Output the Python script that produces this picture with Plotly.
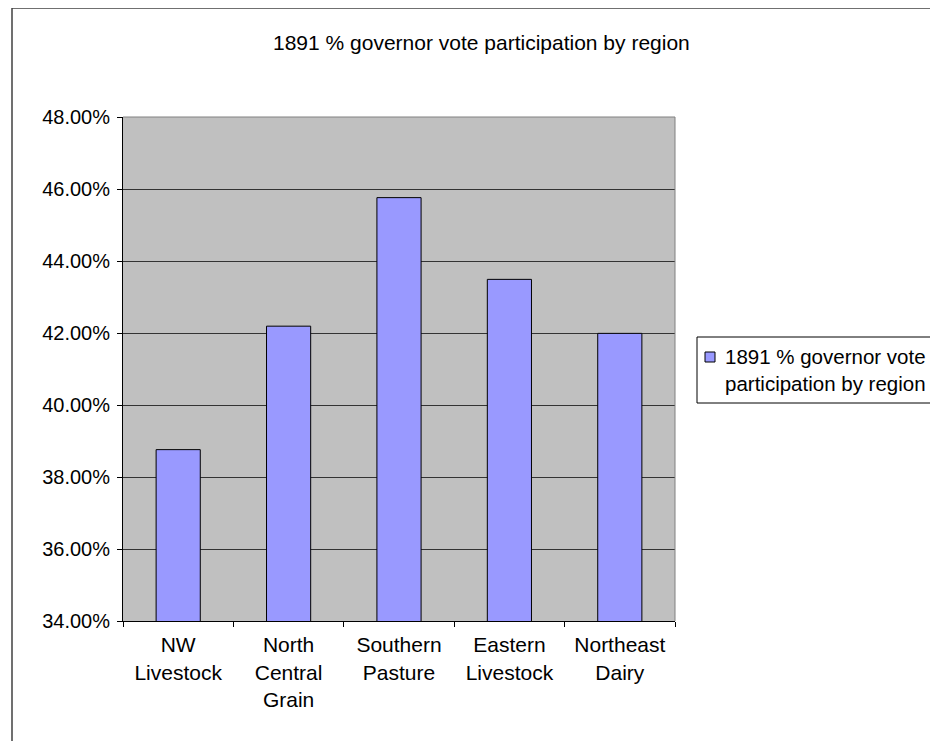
import plotly.graph_objects as go

categories = ["NW<br>Livestock", "North<br>Central<br>Grain", "Southern<br>Pasture",
              "Eastern<br>Livestock", "Northeast<br>Dairy"]
values = [0.3876, 0.4219, 0.4576, 0.4349, 0.4199]
series_name = "1891 % governor vote participation by region"
title_text = "1891 % governor vote participation by region"
legend_text = "1891 % governor vote<br>participation by region"

FONT = "Liberation Sans, Arial, sans-serif"
FS = 21
FS_Y = 20
FS_LEG = 20.5
BAR = "#9999FF"

OFF = 8  # page body margin
W, H = 930, 733
L, T = 123 - OFF, 117 - OFF
pw, ph = 552, 504
R = W - L - pw
B = H - T - ph

def px(x):
    return (x - OFF - L) / pw

def py(y):
    return (H - B - (y - OFF)) / ph

fig = go.Figure()
fig.add_trace(go.Bar(
    x=categories, y=values, name=series_name, width=0.4,
    marker=dict(color=BAR, line=dict(color="black", width=1)),
    showlegend=False,
))

shapes = [
    # chart area border (top and left)
    dict(type="line", xref="paper", yref="paper", x0=px(12), x1=px(960), y0=py(8), y1=py(8),
         line=dict(color="#404040", width=1.5)),
    dict(type="line", xref="paper", yref="paper", x0=px(12), x1=px(12), y0=py(8), y1=py(770),
         line=dict(color="#404040", width=1.5)),
    # plot area top/right border
    dict(type="line", xref="paper", yref="paper", x0=0, x1=1, y0=1, y1=1,
         line=dict(color="#808080", width=1), layer="above"),
    dict(type="line", xref="paper", yref="paper", x0=1, x1=1, y0=0, y1=1,
         line=dict(color="#808080", width=1), layer="above"),
    # legend box
    dict(type="rect", xref="paper", yref="paper", x0=px(697), x1=px(970), y0=py(337), y1=py(403),
         line=dict(color="black", width=1), fillcolor="white"),
    # legend swatch
    dict(type="rect", xref="paper", yref="paper", x0=px(705), x1=px(715), y0=py(352), y1=py(362),
         line=dict(color="black", width=1), fillcolor=BAR),
]

annotations = [
    dict(text=title_text, xref="paper", yref="paper", x=px(481), y=py(42),
         xanchor="center", yanchor="middle", showarrow=False,
         font=dict(family=FONT, size=FS, color="black")),
    dict(text=legend_text, xref="paper", yref="paper", x=px(825), y=py(370),
         xanchor="center", yanchor="middle", align="center", showarrow=False,
         font=dict(family=FONT, size=FS_LEG, color="black")),
]

fig.update_layout(
    width=W, height=H,
    margin=dict(l=L, r=R, t=T, b=B, autoexpand=False),
    paper_bgcolor="white", plot_bgcolor="#C0C0C0",
    font=dict(family=FONT, size=FS, color="black"),
    shapes=shapes, annotations=annotations,
    showlegend=False,
)
fig.update_xaxes(
    showline=True, linecolor="black", linewidth=1,
    ticks="outside", ticklen=5, tickcolor="black", tickson="boundaries",
    ticklabelstandoff=5,
    showgrid=False, tickfont=dict(family=FONT, size=FS),
)
fig.update_yaxes(
    range=[0.34, 0.48], dtick=0.02, tickformat=".2%",
    showline=True, linecolor="black", linewidth=1,
    ticks="outside", ticklen=5, tickcolor="black",
    ticklabelstandoff=3,
    showgrid=True, gridcolor="#333333", gridwidth=1,
    zeroline=False, tickfont=dict(family=FONT, size=FS_Y),
)

fig.write_html("out.html")
